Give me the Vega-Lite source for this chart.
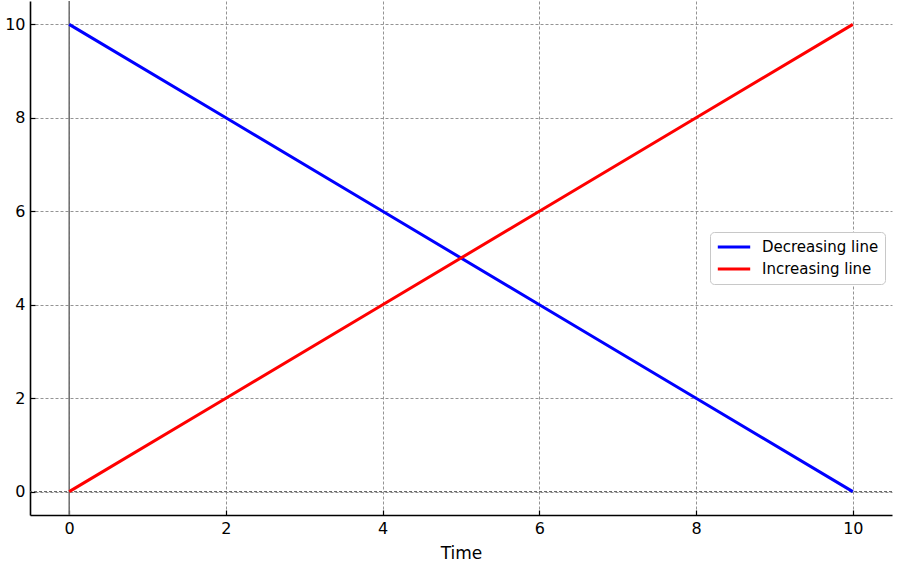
{
  "$schema": "https://vega.github.io/schema/vega-lite/v6.json",
  "width": 862,
  "height": 514,
  "autosize": {"type": "none"},
  "padding": {"left": 30, "top": 1, "right": 8, "bottom": 57},
  "background": "white",
  "config": {
    "view": {"stroke": null},
    "font": "DejaVu Sans",
    "axis": {
      "labelFont": "DejaVu Sans",
      "titleFont": "DejaVu Sans",
      "labelFontSize": 16,
      "titleFontSize": 17,
      "labelColor": "black",
      "titleColor": "black",
      "titleFontWeight": "normal",
      "domainColor": "black",
      "domainWidth": 1.6,
      "tickColor": "black",
      "tickSize": -5,
      "tickWidth": 1.2,
      "gridColor": "#888888",
      "gridDash": [3, 2],
      "gridWidth": 0.9,
      "gridOpacity": 1
    }
  },
  "data": {
    "values": [
      {"t": 0, "v": 10, "s": "Decreasing line"},
      {"t": 2, "v": 8, "s": "Decreasing line"},
      {"t": 4, "v": 6, "s": "Decreasing line"},
      {"t": 6, "v": 4, "s": "Decreasing line"},
      {"t": 8, "v": 2, "s": "Decreasing line"},
      {"t": 10, "v": 0, "s": "Decreasing line"},
      {"t": 0, "v": 0, "s": "Increasing line"},
      {"t": 2, "v": 2, "s": "Increasing line"},
      {"t": 4, "v": 4, "s": "Increasing line"},
      {"t": 6, "v": 6, "s": "Increasing line"},
      {"t": 8, "v": 8, "s": "Increasing line"},
      {"t": 10, "v": 10, "s": "Increasing line"}
    ]
  },
  "layer": [
    {
      "data": {"values": [{"x0": 0}]},
      "mark": {"type": "rule", "color": "#6e6e6e", "strokeWidth": 1.5},
      "encoding": {
        "x": {"field": "x0", "type": "quantitative", "scale": {"domain": [-0.5, 10.5], "nice": false, "zero": false}}
      }
    },
    {
      "data": {"values": [{"y0": 0}]},
      "mark": {"type": "rule", "color": "#555555", "strokeWidth": 1, "strokeDash": [3, 2]},
      "encoding": {
        "y": {"field": "y0", "type": "quantitative", "scale": {"domain": [-0.5, 10.5], "nice": false, "zero": false}}
      }
    },
    {
      "mark": {"type": "line", "strokeWidth": 3, "clip": true},
      "encoding": {
        "x": {
          "field": "t", "type": "quantitative", "title": "Time",
          "scale": {"domain": [-0.5, 10.5], "nice": false, "zero": false},
          "axis": {"values": [0, 2, 4, 6, 8, 10], "format": "d", "labelPadding": 10, "titlePadding": 9}
        },
        "y": {
          "field": "v", "type": "quantitative", "title": null,
          "scale": {"domain": [-0.5, 10.5], "nice": false, "zero": false},
          "axis": {"values": [0, 2, 4, 6, 8, 10], "format": "d", "labelPadding": 10}
        },
        "color": {
          "field": "s", "type": "nominal",
          "scale": {"domain": ["Decreasing line", "Increasing line"], "range": ["#0000ff", "#ff0000"]},
          "legend": {
            "title": null,
            "orient": "none",
            "legendX": 680,
            "legendY": 231,
            "symbolType": "stroke",
            "symbolStrokeWidth": 3,
            "symbolSize": 1050,
            "clipHeight": 18,
            "labelOffset": 10,
            "labelFontSize": 15,
            "labelFont": "DejaVu Sans",
            "labelColor": "black",
            "rowPadding": 4,
            "padding": 6,
            "strokeColor": "#c8c8c8",
            "cornerRadius": 4,
            "fillColor": "white"
          }
        }
      }
    }
  ]
}
